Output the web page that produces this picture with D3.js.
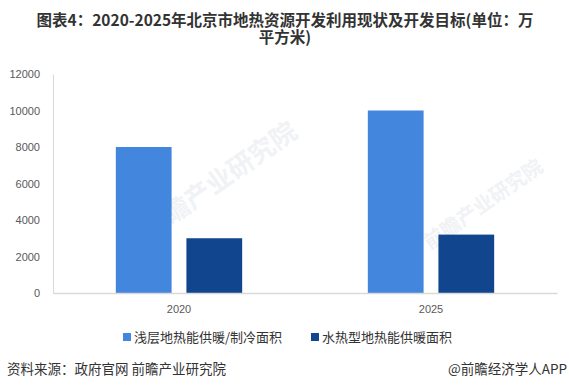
<!DOCTYPE html>
<html><head><meta charset="utf-8">
<script src="https://cdn.jsdelivr.net/npm/d3@7"></script>
<style>body{margin:0;background:#fff;}svg{display:block;font-family:"Noto Sans CJK SC","Microsoft YaHei",sans-serif;}</style>
</head><body>
<svg id="c" width="569" height="390"></svg>
<script>
const categories = ["2020", "2025"];
const seriesNames = ["浅层地热能供暖/制冷面积", "水热型地热能供暖面积"];
const shallowValues = [8000, 10000];
const hydroValues = [3000, 3200];
const yTicks = [0, 2000, 4000, 6000, 8000, 10000, 12000];
const colors = ["#4286DE", "#11468E"];
const titleLines = ["图表4：2020-2025年北京市地热资源开发利用现状及开发目标(单位：万", "平方米)"];
const sourceText = "资料来源：政府官网 前瞻产业研究院";
const brandText = "@前瞻经济学人APP";

const svg = d3.select("#c");
const m = {l: 53, r: 12, t: 74, b: 97};
const W = 569, H = 390;
const x0 = d3.scaleBand().domain(categories).range([m.l, W - m.r]).paddingInner(0).paddingOuter(0);
const x1 = d3.scaleBand().domain([0, 1]).range([0, x0.bandwidth()]).paddingInner(0.21).paddingOuter(0.89);
const y = d3.scaleLinear().domain([0, 12000]).range([H - m.b, m.t]);

// watermarks
const wm = svg.append("g").attr("fill", "#f0f2f5").attr("font-weight", "bold");
[[150, 240, 26], [430, 250, 20]].forEach(([wx, wy, fs]) => {
  wm.append("text").attr("x", wx).attr("y", wy).attr("font-size", fs)
    .attr("transform", `rotate(-35 ${wx} ${wy})`).text("前瞻产业研究院");
});

// title (one text element, two lines)
const title = svg.append("text").attr("text-anchor", "middle").attr("font-size", 15.5)
  .attr("font-weight", "bold").attr("fill", "#333");
title.selectAll("tspan").data(titleLines).join("tspan")
  .attr("x", 285).attr("y", (d, i) => 26 + i * 17).text(d => d);

// y axis
const yAxis = svg.append("g").attr("transform", `translate(${m.l},0)`)
  .call(d3.axisLeft(y).tickValues(yTicks).tickSize(0).tickPadding(13).tickFormat(d3.format("d")));
yAxis.select(".domain").attr("stroke", "#d9d9d9");
yAxis.selectAll("text").attr("font-size", 11).attr("fill", "#595959").attr("font-family", "Liberation Sans, Arial, sans-serif");

// bars
const data = categories.map((c, i) => ({c, vals: [shallowValues[i], hydroValues[i]]}));
const g = svg.append("g").selectAll("g").data(data).join("g")
  .attr("transform", d => `translate(${x0(d.c)},0)`);
g.selectAll("rect").data(d => d.vals.map((v, k) => ({v, k}))).join("rect")
  .attr("x", d => x1(d.k)).attr("width", x1.bandwidth())
  .attr("y", d => y(d.v)).attr("height", d => y(0) - y(d.v))
  .attr("fill", d => colors[d.k]);

// x axis
const xAxis = svg.append("g").attr("transform", `translate(0,${y(0)})`)
  .call(d3.axisBottom(x0).tickSize(0).tickPadding(12));
xAxis.select(".domain").attr("stroke", "#d9d9d9").attr("stroke-width", 1.5);
xAxis.selectAll("text").attr("font-size", 11).attr("fill", "#595959").attr("font-family", "Liberation Sans, Arial, sans-serif");

// legend
const legX = [123, 311];
const leg = svg.append("g").selectAll("g").data(seriesNames).join("g")
  .attr("transform", (d, i) => `translate(${legX[i]},337)`);
leg.append("rect").attr("x", 0).attr("y", -4).attr("width", 8).attr("height", 8).attr("fill", (d, i) => colors[i]);
leg.append("text").attr("x", 11).attr("y", 5).attr("font-size", 13).attr("fill", "#333").text(d => d);

// footer
svg.append("text").attr("x", 7).attr("y", 374).attr("font-size", 13.5).attr("fill", "#333").text(sourceText);
svg.append("text").attr("x", 567).attr("y", 374).attr("text-anchor", "end").attr("font-size", 13.5).attr("fill", "#333").text(brandText);
</script>
</body></html>
